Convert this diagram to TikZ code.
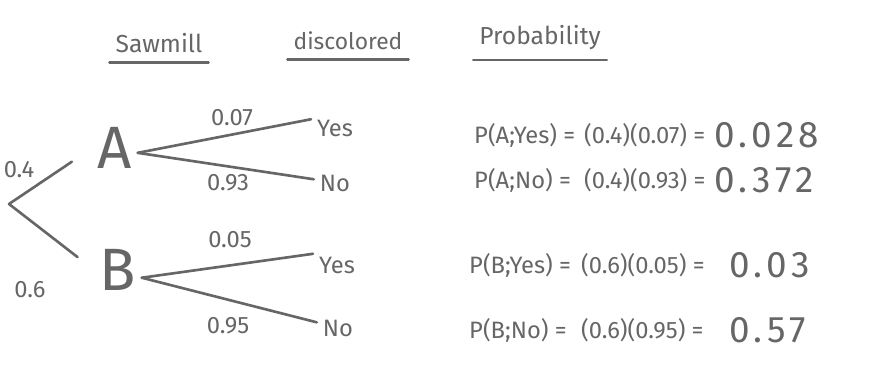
\documentclass[tikz,border=0pt]{standalone}
\usepackage{fontspec}
\setmainfont{Fira Sans}
\definecolor{pencil}{HTML}{666666}
\tikzset{
  every node/.style={text=pencil,font=\fontsize{13.5}{15}\selectfont},
  stroke/.style={draw=pencil,line width=1.5pt,line cap=round},
  letter/.style={font=\fontsize{34}{34}\selectfont,inner sep=3pt},
  heading/.style={font=\fontsize{14}{16}\selectfont},
  eqn/.style={anchor=west,font=\fontsize{13.5}{15}\selectfont},
  result/.style={anchor=west,font=\fontsize{21}{23}\selectfont\addfontfeature{LetterSpace=12}},
}
\begin{document}
\begin{tikzpicture}
  \useasboundingbox (0,0) rectangle (17.5,-7.5);
  % headings

  \node[heading] (sawmill) at (3.18,-0.86) {Sawmill};
  \node[heading,font=\fontsize{13}{15}\selectfont] (discol) at (6.96,-0.82) {discolored};
  \node[heading] (prob) at (10.80,-0.76) {Probability};

  \draw[stroke] ([yshift=-2pt]sawmill.south west) to ([yshift=-2pt]sawmill.south east);
  \draw[stroke] ([yshift=-2pt]discol.south west) to ([yshift=-2pt]discol.south east);
  \draw[stroke] ([yshift=-2pt]prob.south west) to ([yshift=-2pt]prob.south east);

  % tree
  \coordinate (root) at (0.18,-4.08);

  \node[letter] (A) at (2.30,-2.96) {A};
  \node[letter] (B) at (2.36,-5.40) {B};

  \draw[stroke,shorten >=14pt] (root) to (A.west);
  \draw[stroke,shorten >=12pt] (root) to (B.west);

  \node (ayes) at (6.70,-2.56) {Yes};
  \node (ano) at (6.70,-3.66) {No};
  \node (byes) at (6.74,-5.30) {Yes};
  \node (bno) at (6.76,-6.56) {No};

  \draw[stroke] (A.-12) to (ayes.160);
  \draw[stroke] (A.-12) to (ano.170);
  \draw[stroke] (B.-18) to (byes.155);
  \draw[stroke] (B.-18) to (bno.165);

  \node (pa) at (0.38,-3.40) {0.4};
  \node (pb) at (0.60,-5.80) {0.6};
  \node (pay) at (4.64,-2.36) {0.07};
  \node (pan) at (4.56,-3.66) {0.93};
  \node (pby) at (4.60,-4.80) {0.05};
  \node (pbn) at (4.56,-6.52) {0.95};

  % probabilities
  \node[eqn] (lay) at (9.36,-2.70) {P(A;Yes) =};
  \node[eqn] (may) at (11.56,-2.70) {(0.4)(0.07) =};
  \node[result] (ray) at (14.16,-2.70) {0.028};

  \node[eqn] (lan) at (9.36,-3.60) {P(A;No) =};
  \node[eqn] (man) at (11.56,-3.60) {(0.4)(0.93) =};
  \node[result] (ran) at (14.16,-3.60) {0.372};

  \node[eqn] (lby) at (9.26,-5.30) {P(B;Yes) =};
  \node[eqn] (mby) at (11.50,-5.30) {(0.6)(0.05) =};
  \node[result] (rby) at (14.46,-5.30) {0.03};

  \node[eqn] (lbn) at (9.26,-6.60) {P(B;No) =};
  \node[eqn] (mbn) at (11.50,-6.60) {(0.6)(0.95) =};
  \node[result] (rbn) at (14.46,-6.60) {0.57};

\end{tikzpicture}
\end{document}
